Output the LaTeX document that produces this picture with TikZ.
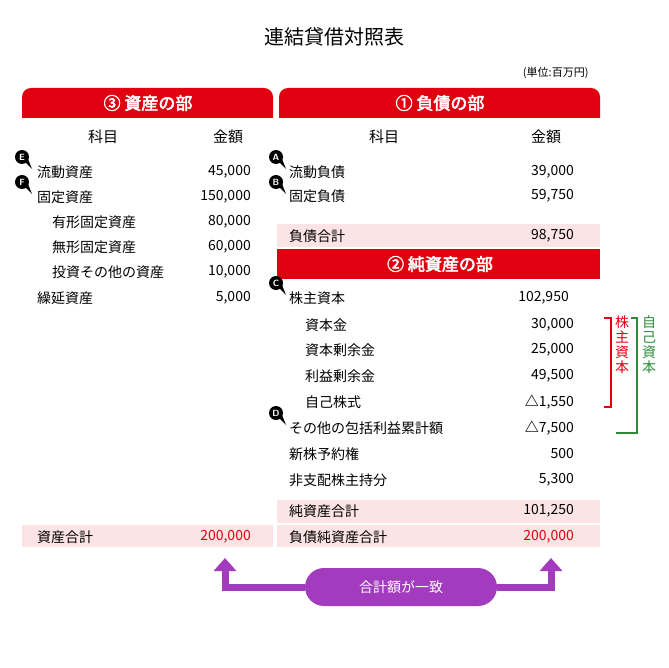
\documentclass[tikz,border=0pt]{standalone}
\usepackage{fontspec}
\setmainfont{Noto Sans CJK JP}
\newfontfamily\boldjp[FakeBold=3]{Noto Sans CJK JP}
\usetikzlibrary{arrows.meta}
\definecolor{hred}{HTML}{E10010}
\definecolor{pinkb}{HTML}{FCE4E4}
\definecolor{purp}{HTML}{A23BBE}
\definecolor{gr}{HTML}{2E8B3A}
\begin{document}
\begin{tikzpicture}[x=1pt,y=-1pt,
  t/.style={font=\fontsize{14}{16}\selectfont,inner sep=0pt,anchor=west},
  v/.style={font=\fontsize{14}{16}\selectfont,inner sep=0pt,anchor=east},
  hd/.style={font=\fontsize{15}{17}\selectfont,inner sep=0pt},
  htxt/.style={font=\boldjp\fontsize{17}{19}\selectfont,text=white,inner sep=0pt},
  badge/.style={circle,fill=black,text=white,font=\bfseries\sffamily\fontsize{9}{9}\selectfont,inner sep=0pt,minimum size=14pt},
  parrow/.style={purp,line width=7pt,-{Triangle[width=22pt,length=13pt]}}]
\useasboundingbox (0,0) rectangle (668,668);
\node[font=\fontsize{20}{22}\selectfont] (title) at (334,37) {連結貸借対照表};
\node[font=\fontsize{11}{12}\selectfont,anchor=east] (unit) at (592,73) {(単位:百万円)};
% headers
\fill[hred] (22,118) [rounded corners=9pt] -- (22,88) -- (273,88) [sharp corners] -- (273,118) -- cycle;
\fill[hred] (279,118) [rounded corners=9pt] -- (279,88) -- (600,88) [sharp corners] -- (600,118) -- cycle;
\node[htxt] (h3) at (148,103) {③ 資産の部};
\node[htxt] (h1) at (440,103) {① 負債の部};
\node[hd] (k1) at (103,137) {科目};
\node[hd] (g1) at (228,137) {金額};
\node[hd] (k2) at (384,137) {科目};
\node[hd] (g2) at (546,137) {金額};
% bands
\fill[pinkb] (277,224) rectangle (600,247);
\fill[hred] (277,249) rectangle (600,279);
\node[htxt] (h2) at (440,264) {② 純資産の部};
\fill[pinkb] (277,500) rectangle (600,523);
\fill[pinkb] (277,525) rectangle (600,547);
\fill[pinkb] (22,525) rectangle (273,547);
% left rows
\node[t] (a1) at (37,172) {流動資産}; \node[v] (a1v) at (251,172) {45,000};
\node[t] (a2) at (37,197) {固定資産}; \node[v] (a2v) at (251,197) {150,000};
\node[t] (a3) at (52,222) {有形固定資産}; \node[v] (a3v) at (251,222) {80,000};
\node[t] (a4) at (52,247) {無形固定資産}; \node[v] (a4v) at (251,247) {60,000};
\node[t] (a5) at (52,272) {投資その他の資産}; \node[v] (a5v) at (251,272) {10,000};
\node[t] (a6) at (37,298) {繰延資産}; \node[v] (a6v) at (251,298) {5,000};
\node[t] (at) at (37,537) {資産合計}; \node[v,text=hred] (atv) at (251,537) {200,000};
% right rows
\node[t] (b1) at (289,172) {流動負債}; \node[v] (b1v) at (574,172) {39,000};
\node[t] (b2) at (289,196) {固定負債}; \node[v] (b2v) at (574,196) {59,750};
\node[t] (b3) at (289,236) {負債合計}; \node[v] (b3v) at (574,236) {98,750};
\node[t] (c1) at (289,298) {株主資本}; \node[v] (c1v) at (569,298) {102,950};
\node[t] (c2) at (305,325) {資本金}; \node[v] (c2v) at (574,325) {30,000};
\node[t] (c3) at (305,350) {資本剰余金}; \node[v] (c3v) at (574,350) {25,000};
\node[t] (c4) at (305,376) {利益剰余金}; \node[v] (c4v) at (574,376) {49,500};
\node[t] (c5) at (305,402) {自己株式}; \node[v] (c5v) at (574,402) {\textbf{△}1,550};
\node[t] (c6) at (289,428) {その他の包括利益累計額}; \node[v] (c6v) at (574,428) {\textbf{△}7,500};
\node[t] (c7) at (289,454) {新株予約権}; \node[v] (c7v) at (574,454) {500};
\node[t] (c8) at (289,480) {非支配株主持分}; \node[v] (c8v) at (574,480) {5,300};
\node[t] (c9) at (289,511) {純資産合計}; \node[v] (c9v) at (574,511) {101,250};
\node[t] (c10) at (289,537) {負債純資産合計}; \node[v,text=hred] (c10v) at (574,537) {200,000};
% badges
\foreach \n/\x/\y in {E/22/157,F/22/182,A/276/157,B/276/182,C/276/283,D/276/413}{
  \fill (\x+2,\y+4) -- (\x+10,\y+12) -- (\x+6,\y+2) -- cycle;
  \node[badge] (bd\n) at (\x,\y) {\n};
}
% brackets
\draw[hred,line width=1.5pt] (604,318) -- (611,318) -- (611,407) -- (604,407);
\node[text=hred,font=\fontsize{14}{15}\selectfont,align=center,inner sep=0pt,anchor=north] (kabu) at (622,316) {株\\主\\資\\本};
\draw[gr,line width=1.5pt] (631,318) -- (637,318) -- (637,433) -- (616,433);
\node[text=gr,font=\fontsize{14}{15}\selectfont,align=center,inner sep=0pt,anchor=north] (jiko) at (649,316) {自\\己\\資\\本};
% sum arrows
\node[fill=purp,text=white,rounded corners=19pt,minimum width=192pt,minimum height=38pt,font=\fontsize{14}{16}\selectfont] (pill) at (401,587) {合計額が一致};
\coordinate (la) at (225,558);
\coordinate (ra) at (551,558);
\draw[parrow] (pill.west) -| (la);
\draw[parrow] (pill.east) -| (ra);
\end{tikzpicture}
\end{document}
